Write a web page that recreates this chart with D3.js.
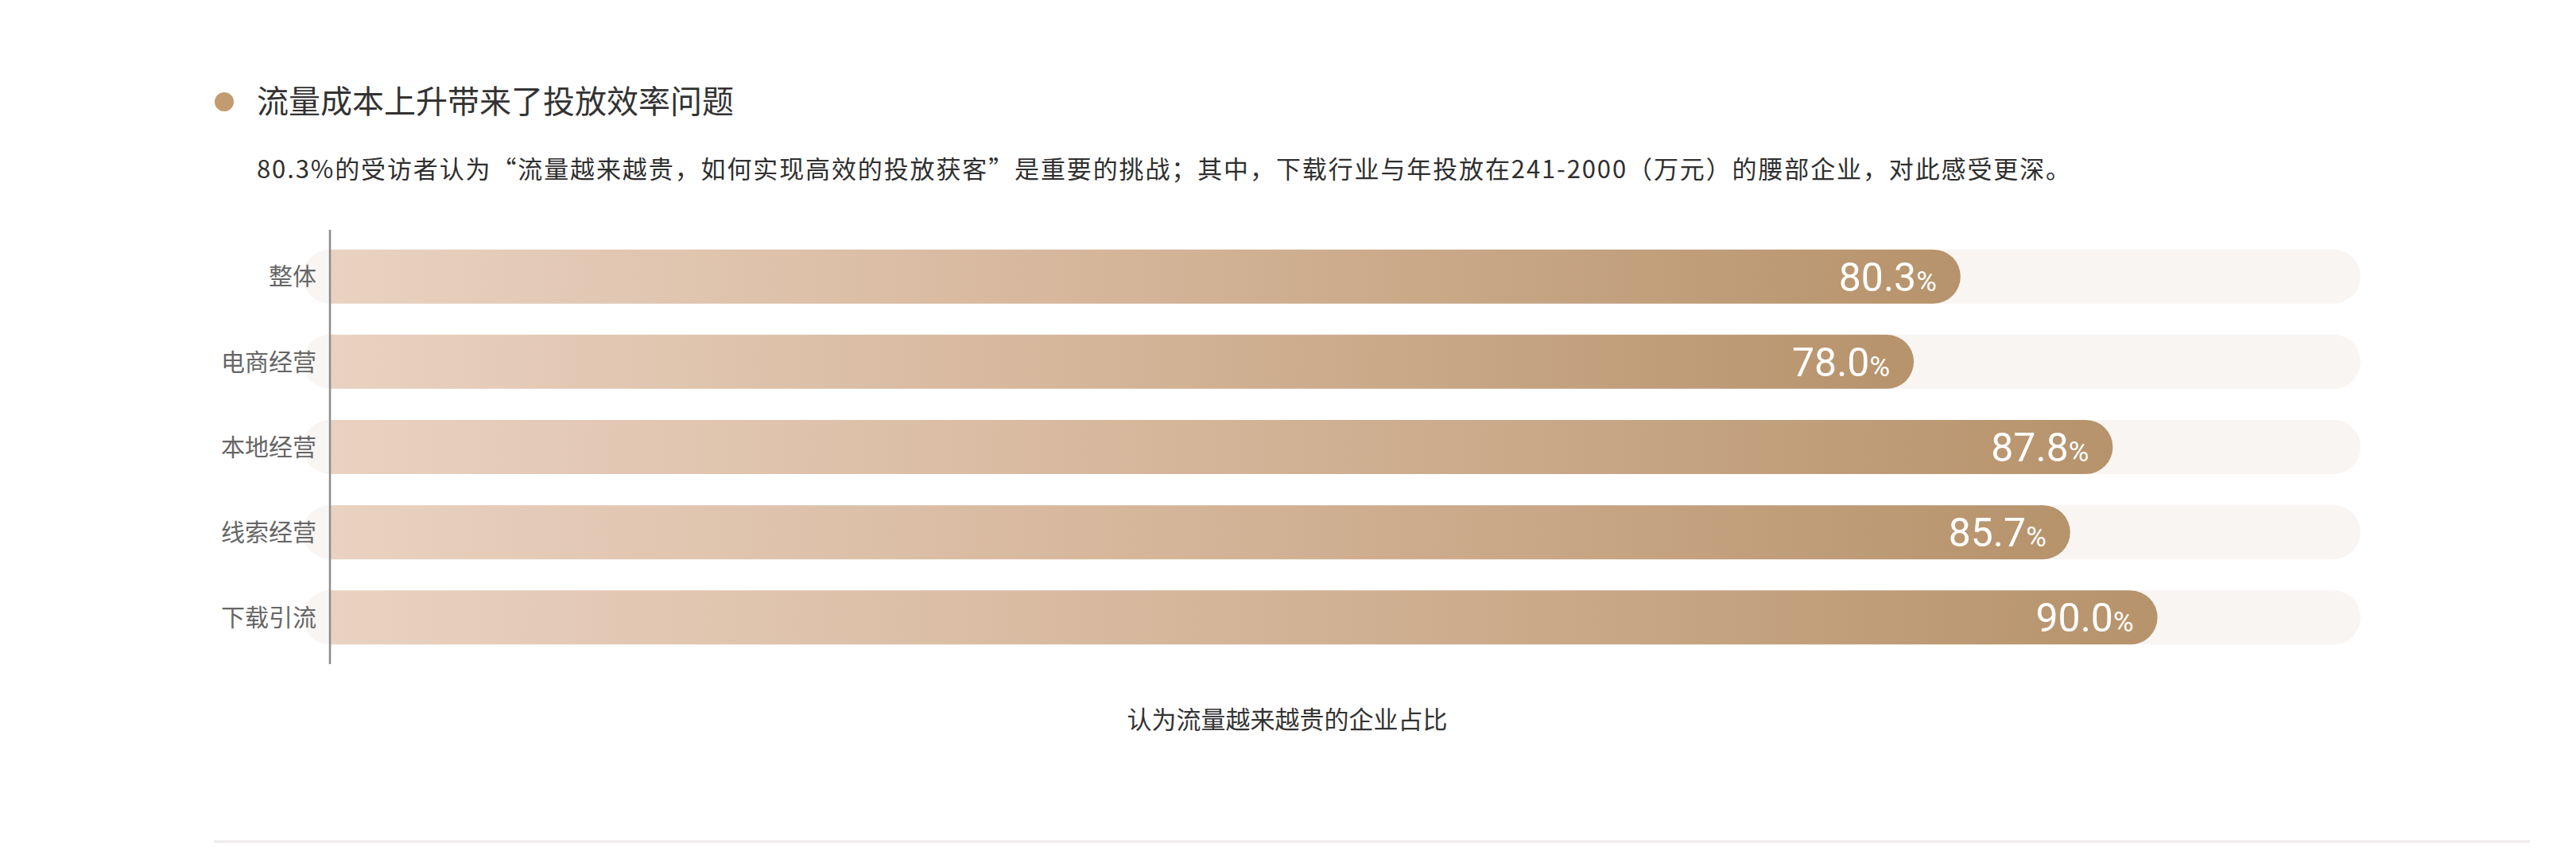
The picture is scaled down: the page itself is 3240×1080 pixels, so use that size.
<!DOCTYPE html>
<html>
<head>
<meta charset="utf-8">
<script src="https://cdn.jsdelivr.net/npm/d3@7"></script>
<style>
  html, body { margin: 0; padding: 0; background: #fff; }
  svg { display: block; }
  text { font-family: "Noto Sans CJK SC", "Noto Sans", sans-serif; }
</style>
</head>
<body>
<div id="chart"></div>
<script>
// data
var categories = ["整体", "电商经营", "本地经营", "线索经营", "下载引流"];
var shares = [80.3, 78.0, 87.8, 85.7, 90.0];
var title = "流量成本上升带来了投放效率问题";
var subtitle = "80.3%的受访者认为“流量越来越贵，如何实现高效的投放获客”是重要的挑战；其中，下载行业与年投放在241-2000（万元）的腰部企业，对此感受更深。";
var caption = "认为流量越来越贵的企业占比";

var W = 3240, H = 1080;
var svg = d3.select("#chart").append("svg").attr("width", W).attr("height", H);

// gradient for the bars, per bar box
var defs = svg.append("defs");
var grad = defs.append("linearGradient").attr("id", "barGrad")
    .attr("x1", "0%").attr("x2", "100%").attr("y1", "0%").attr("y2", "0%");
grad.append("stop").attr("offset", "0%").attr("stop-color", "#e9d2c1");
grad.append("stop").attr("offset", "50%").attr("stop-color", "#d4b498");
grad.append("stop").attr("offset", "100%").attr("stop-color", "#b6936b");

// header
svg.append("circle").attr("cx", 282).attr("cy", 128).attr("r", 12).attr("fill", "#c29c70");
svg.append("text").attr("x", 323).attr("y", 128).attr("dy", "0.36em")
    .attr("font-size", 40).attr("fill", "#333").text(title);
var sub = svg.append("text").attr("x", 323).attr("y", 213).attr("dy", "0.36em")
    .attr("font-size", 31).attr("fill", "#2f2f2f").text(subtitle);
// stretch letter spacing so the line ends where the reference does
var subW = sub.node().getComputedTextLength();
var target = 2606 - 323;
sub.attr("letter-spacing", ((target - subW) / subtitle.length) + "px");

// scales
var x = d3.scaleLinear().domain([0, 100]).range([415, 2969]);
var y = d3.scaleBand().domain(categories).range([289, 835])
    .paddingInner(0.365).paddingOuter(0.23);
var bh = y.bandwidth();

var rows = svg.append("g").selectAll("g.row")
    .data(categories.map(function (c, i) { return { cat: c, v: shares[i] }; }))
    .join("g").attr("class", "row")
    .attr("transform", function (d) { return "translate(0," + y(d.cat) + ")"; });

// background track
rows.append("rect")
    .attr("x", x(0) - bh / 2)
    .attr("width", x(100) - x(0) + bh / 2)
    .attr("height", bh).attr("rx", bh / 2)
    .attr("fill", "#f8f5f3");

// bar: square left end, round right end
rows.append("path")
    .attr("fill", "url(#barGrad)")
    .attr("d", function (d) {
        var x0 = x(0), x1 = x(d.v), r = bh / 2;
        return "M" + x0 + ",0H" + (x1 - r) +
            "A" + r + "," + r + " 0 0 1 " + (x1 - r) + "," + bh +
            "H" + x0 + "Z";
    });

// value labels
var vt = rows.append("text")
    .attr("x", function (d) { return x(d.v) - 30; })
    .attr("y", bh / 2 + 18)
    .attr("text-anchor", "end")
    .attr("fill", "#fff")
    .style("font-family", "Roboto, 'Noto Sans', sans-serif");
vt.append("tspan").attr("font-size", 50).text(function (d) { return d.v.toFixed(1); });
vt.append("tspan").attr("font-size", 35).text("%");

// category labels
rows.append("text")
    .attr("x", 398).attr("y", bh / 2).attr("dy", "0.36em")
    .attr("text-anchor", "end")
    .attr("font-size", 30).attr("fill", "#666")
    .text(function (d) { return d.cat; });

// axis line
svg.append("line")
    .attr("x1", 415).attr("x2", 415)
    .attr("y1", y.range()[0]).attr("y2", y.range()[1])
    .attr("stroke", "#8c8c8c").attr("stroke-width", 2.5);

// caption
svg.append("text").attr("x", 1619).attr("y", 905).attr("dy", "0.36em")
    .attr("text-anchor", "middle").attr("font-size", 31).attr("fill", "#333")
    .text(caption);

// bottom divider
svg.append("line").attr("x1", 269).attr("x2", 3182).attr("y1", 1058).attr("y2", 1058)
    .attr("stroke", "#eeeaea").attr("stroke-width", 3);
</script>
</body>
</html>
